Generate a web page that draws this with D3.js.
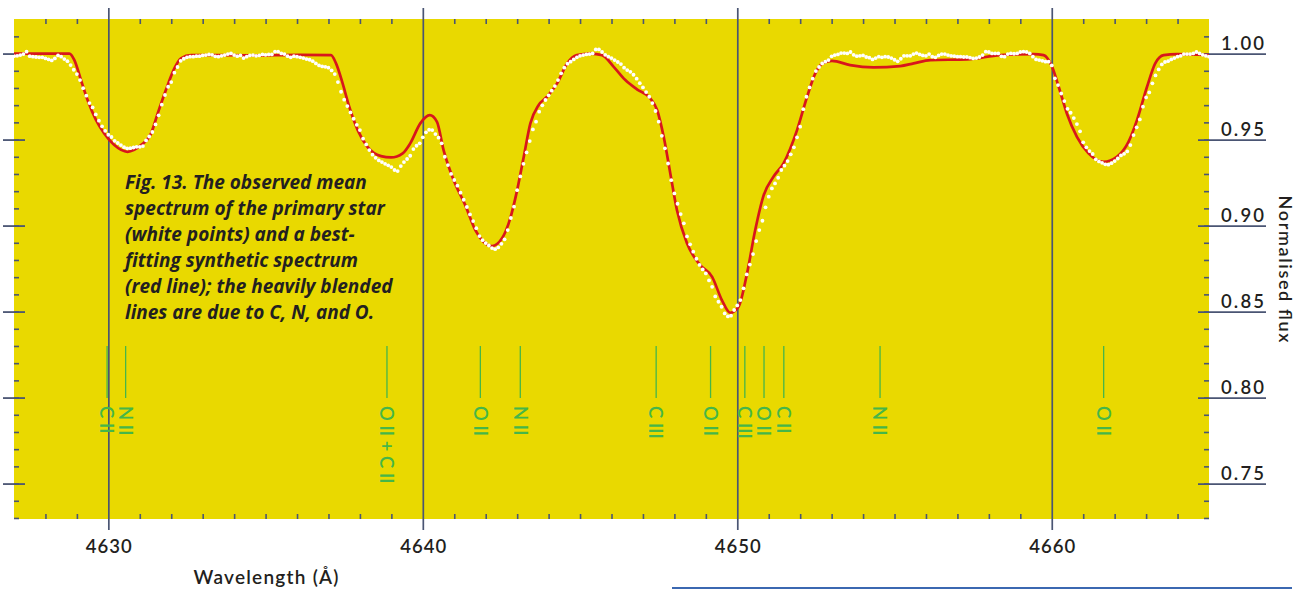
<!DOCTYPE html>
<html>
<head>
<meta charset="utf-8">
<script src="https://cdn.jsdelivr.net/npm/d3@7/dist/d3.min.js"></script>
<style>
  html, body { margin: 0; padding: 0; background: #ffffff; }
  svg { display: block; }
</style>
</head>
<body>
<svg id="chart" width="1297" height="591"></svg>
<script>
// ---------- DATA ----------
const wavelengthTicks = [4630, 4640, 4650, 4660];
const wavelengthTickLabels = ["4630", "4640", "4650", "4660"];
const fluxTicks = [0.75, 0.80, 0.85, 0.90, 0.95, 1.00];
const fluxTickLabels = ["0.75", "0.80", "0.85", "0.90", "0.95", "1.00"];

// Best-fitting synthetic spectrum (red line)
const modelWavelength = [4627.0, 4628.76, 4628.92, 4629.13, 4629.34, 4629.61, 4629.87, 4630.19, 4630.61, 4631.04,
  4631.36, 4631.57, 4631.83, 4632.10, 4632.31, 4632.63, 4634.5, 4636.1, 4637.08, 4637.24,
  4637.45, 4637.66, 4637.93, 4638.24, 4638.67, 4638.99, 4639.36, 4639.60, 4639.92, 4640.22,
  4640.45, 4640.66, 4640.98, 4641.35, 4641.67, 4641.93, 4642.20, 4642.52, 4642.78, 4643.00,
  4643.21, 4643.42, 4643.68, 4643.95, 4644.27, 4644.59, 4644.90, 4645.33, 4645.70, 4646.07,
  4646.44, 4646.81, 4647.23, 4647.45, 4647.66, 4647.87, 4648.08, 4648.40, 4648.82, 4649.20,
  4649.51, 4649.78, 4650.04, 4650.31, 4650.57, 4650.84, 4651.15, 4651.47, 4651.90, 4652.22,
  4652.48, 4652.74, 4653.01, 4653.59, 4654.33, 4655.18, 4655.61, 4656.14, 4657.30, 4658.36,
  4659.42, 4659.74, 4660.01, 4660.22, 4660.48, 4660.80, 4661.17, 4661.65, 4662.07, 4662.44,
  4662.71, 4663.03, 4663.29, 4663.56, 4663.98, 4665.0];
const modelFlux = [1.000, 1.000, 0.9962, 0.9846, 0.973, 0.9613, 0.9536, 0.9468, 0.9429, 0.9468,
  0.9536, 0.9652, 0.9788, 0.9914, 0.9972, 0.9991, 0.9990, 0.9993, 0.9991, 0.9943,
  0.9827, 0.9691, 0.9555, 0.9458, 0.9404, 0.9396, 0.942, 0.9478, 0.9594, 0.9642,
  0.9603, 0.9439, 0.9265, 0.9119, 0.8974, 0.8906, 0.8881, 0.8926, 0.9042, 0.9206,
  0.94, 0.9594, 0.97, 0.9749, 0.9827, 0.9943, 0.9991, 1.000, 0.9991, 0.9923,
  0.9846, 0.9792, 0.974, 0.9672, 0.9516, 0.9303, 0.909, 0.8897, 0.877, 0.8702,
  0.8567, 0.8493, 0.8528, 0.8722, 0.8974, 0.9177, 0.9284, 0.9362, 0.9555, 0.9749,
  0.9885, 0.9947, 0.9958, 0.9933, 0.992, 0.9927, 0.9943, 0.9962, 0.9966, 0.9991,
  0.9997, 0.9991, 0.9923, 0.9807, 0.9652, 0.9516, 0.942, 0.9371, 0.94, 0.9487,
  0.9613, 0.9807, 0.9943, 0.9991, 0.9997, 0.9991];

// Observed mean spectrum (white points)
const obsWavelength = [
  4627.0,4627.1,4627.2,4627.3,4627.4,4627.5,4627.6,4627.7,4627.8,4627.9,
  4628.0,4628.1,4628.2,4628.3,4628.4,4628.5,4628.6,4628.7,4628.8,4628.9,
  4629.0,4629.1,4629.2,4629.3,4629.4,4629.5,4629.6,4629.7,4629.8,4629.9,
  4630.0,4630.1,4630.2,4630.3,4630.4,4630.5,4630.6,4630.7,4630.8,4630.9,
  4631.0,4631.1,4631.2,4631.3,4631.4,4631.5,4631.6,4631.7,4631.8,4631.9,
  4632.0,4632.1,4632.2,4632.3,4632.4,4632.5,4632.6,4632.7,4632.8,4632.9,
  4633.0,4633.1,4633.2,4633.3,4633.4,4633.5,4633.6,4633.7,4633.8,4633.9,
  4634.0,4634.1,4634.2,4634.3,4634.4,4634.5,4634.6,4634.7,4634.8,4634.9,
  4635.0,4635.1,4635.2,4635.3,4635.4,4635.5,4635.6,4635.7,4635.8,4635.9,
  4636.0,4636.1,4636.2,4636.3,4636.4,4636.5,4636.6,4636.7,4636.8,4636.9,
  4637.0,4637.1,4637.2,4637.3,4637.4,4637.5,4637.6,4637.7,4637.8,4637.9,
  4638.0,4638.1,4638.2,4638.3,4638.4,4638.5,4638.6,4638.7,4638.8,4638.9,
  4639.0,4639.1,4639.2,4639.3,4639.4,4639.5,4639.6,4639.7,4639.8,4639.9,
  4640.0,4640.1,4640.2,4640.3,4640.4,4640.5,4640.6,4640.7,4640.8,4640.9,
  4641.0,4641.1,4641.2,4641.3,4641.4,4641.5,4641.6,4641.7,4641.8,4641.9,
  4642.0,4642.1,4642.2,4642.3,4642.4,4642.5,4642.6,4642.7,4642.8,4642.9,
  4643.0,4643.1,4643.2,4643.3,4643.4,4643.5,4643.6,4643.7,4643.8,4643.9,
  4644.0,4644.1,4644.2,4644.3,4644.4,4644.5,4644.6,4644.7,4644.8,4644.9,
  4645.0,4645.1,4645.2,4645.3,4645.4,4645.5,4645.6,4645.7,4645.8,4645.9,
  4646.0,4646.1,4646.2,4646.3,4646.4,4646.5,4646.6,4646.7,4646.8,4646.9,
  4647.0,4647.1,4647.2,4647.3,4647.4,4647.5,4647.6,4647.7,4647.8,4647.9,
  4648.0,4648.1,4648.2,4648.3,4648.4,4648.5,4648.6,4648.7,4648.8,4648.9,
  4649.0,4649.1,4649.2,4649.3,4649.4,4649.5,4649.6,4649.7,4649.8,4649.9,
  4650.0,4650.1,4650.2,4650.3,4650.4,4650.5,4650.6,4650.7,4650.8,4650.9,
  4651.0,4651.1,4651.2,4651.3,4651.4,4651.5,4651.6,4651.7,4651.8,4651.9,
  4652.0,4652.1,4652.2,4652.3,4652.4,4652.5,4652.6,4652.7,4652.8,4652.9,
  4653.0,4653.1,4653.2,4653.3,4653.4,4653.5,4653.6,4653.7,4653.8,4653.9,
  4654.0,4654.1,4654.2,4654.3,4654.4,4654.5,4654.6,4654.7,4654.8,4654.9,
  4655.0,4655.1,4655.2,4655.3,4655.4,4655.5,4655.6,4655.7,4655.8,4655.9,
  4656.0,4656.1,4656.2,4656.3,4656.4,4656.5,4656.6,4656.7,4656.8,4656.9,
  4657.0,4657.1,4657.2,4657.3,4657.4,4657.5,4657.6,4657.7,4657.8,4657.9,
  4658.0,4658.1,4658.2,4658.3,4658.4,4658.5,4658.6,4658.7,4658.8,4658.9,
  4659.0,4659.1,4659.2,4659.3,4659.4,4659.5,4659.6,4659.7,4659.8,4659.9,
  4660.0,4660.1,4660.2,4660.3,4660.4,4660.5,4660.6,4660.7,4660.8,4660.9,
  4661.0,4661.1,4661.2,4661.3,4661.4,4661.5,4661.6,4661.7,4661.8,4661.9,
  4662.0,4662.1,4662.2,4662.3,4662.4,4662.5,4662.6,4662.7,4662.8,4662.9,
  4663.0,4663.1,4663.2,4663.3,4663.4,4663.5,4663.6,4663.7,4663.8,4663.9,
  4664.0,4664.1,4664.2,4664.3,4664.4,4664.5,4664.6,4664.7,4664.8,4664.9,
  4665.0];
const obsFlux = [
  0.9985,0.9987,0.9991,0.9997,1.0011,0.9985,0.9982,0.9980,0.9978,0.9978,
  0.9972,0.9966,0.9960,0.9972,0.9989,0.9982,0.9968,0.9956,0.9933,0.9906,
  0.9881,0.9846,0.9799,0.9755,0.9712,0.9687,0.9646,0.9610,0.9577,0.9551,
  0.9528,0.9515,0.9493,0.9480,0.9468,0.9456,0.9449,0.9450,0.9454,0.9458,
  0.9458,0.9462,0.9495,0.9518,0.9544,0.9588,0.9641,0.9703,0.9759,0.9807,
  0.9834,0.9889,0.9922,0.9958,0.9970,0.9978,0.9982,0.9982,0.9985,0.9985,
  0.9989,0.9991,0.9995,0.9993,0.9984,0.9982,0.9987,0.9991,0.9997,1.0001,
  0.9991,0.9985,0.9989,0.9974,0.9982,0.9989,0.9991,0.9987,0.9989,0.9995,
  0.9993,0.9995,0.9995,1.0011,1.0011,1.0001,0.9997,0.9985,0.9978,0.9985,
  0.9982,0.9978,0.9974,0.9968,0.9964,0.9956,0.9943,0.9931,0.9925,0.9923,
  0.9918,0.9902,0.9881,0.9834,0.9778,0.9732,0.9695,0.9658,0.9621,0.9586,
  0.9555,0.9505,0.9472,0.9439,0.9412,0.9394,0.9379,0.9369,0.9359,0.9350,
  0.9340,0.9323,0.9317,0.9346,0.9369,0.9387,0.9406,0.9445,0.9464,0.9478,
  0.9513,0.9542,0.9557,0.9555,0.9532,0.9511,0.9478,0.9400,0.9352,0.9300,
  0.9265,0.9232,0.9191,0.9150,0.9108,0.9065,0.9026,0.8985,0.8939,0.8915,
  0.8898,0.8884,0.8869,0.8863,0.8873,0.8894,0.8920,0.8974,0.9044,0.9110,
  0.9206,0.9286,0.9359,0.9425,0.9491,0.9559,0.9604,0.9662,0.9699,0.9730,
  0.9757,0.9784,0.9811,0.9846,0.9885,0.9918,0.9941,0.9953,0.9966,0.9978,
  0.9987,0.9991,0.9995,0.9997,1.0001,1.0024,1.0024,1.0009,0.9993,0.9982,
  0.9974,0.9962,0.9951,0.9939,0.9918,0.9904,0.9894,0.9877,0.9854,0.9828,
  0.9803,0.9776,0.9749,0.9712,0.9666,0.9604,0.9522,0.9449,0.9361,0.9264,
  0.9187,0.9127,0.9067,0.9013,0.8937,0.8891,0.8848,0.8807,0.8771,0.8745,
  0.8722,0.8681,0.8644,0.8588,0.8557,0.8528,0.8489,0.8472,0.8476,0.8509,
  0.8536,0.8567,0.8635,0.8716,0.8773,0.8834,0.8910,0.8974,0.9028,0.9106,
  0.9168,0.9216,0.9245,0.9278,0.9323,0.9348,0.9375,0.9414,0.9455,0.9513,
  0.9575,0.9677,0.9749,0.9803,0.9854,0.9898,0.9922,0.9943,0.9953,0.9962,
  0.9984,0.9991,0.9995,1.0003,1.0003,1.0001,1.0009,0.9993,0.9985,0.9987,
  0.9989,0.9980,0.9976,0.9966,0.9974,0.9982,0.9978,0.9982,0.9980,0.9974,
  0.9964,0.9955,0.9970,0.9987,0.9987,0.9987,0.9997,1.0003,0.9995,0.9989,
  0.9987,0.9997,0.9982,0.9978,0.9989,0.9997,0.9997,0.9991,0.9987,0.9985,
  0.9982,0.9982,0.9980,0.9980,0.9976,0.9972,0.9974,0.9980,0.9991,1.0011,
  1.0009,1.0001,1.0001,1.0001,0.9984,0.9982,0.9997,1.0001,0.9999,1.0001,
  1.0009,1.0011,1.0009,1.0001,0.9982,0.9966,0.9962,0.9958,0.9953,0.9953,
  0.9931,0.9856,0.9817,0.9768,0.9724,0.9679,0.9656,0.9625,0.9590,0.9548,
  0.9484,0.9455,0.9433,0.9416,0.9385,0.9373,0.9365,0.9356,0.9354,0.9363,
  0.9375,0.9390,0.9408,0.9417,0.9431,0.9468,0.9526,0.9571,0.9617,0.9691,
  0.9745,0.9774,0.9827,0.9873,0.9908,0.9937,0.9951,0.9956,0.9966,0.9974,
  0.9982,0.9987,0.9997,0.9997,0.9997,1.0001,1.0009,1.0001,0.9993,0.9987,
  0.9982];

// Line identifications (green markers)
const lineIons = ["C II", "N II", "O II + C II", "O II", "N II", "C III", "O II", "C III", "O II", "C II", "N II", "O II"];
const lineWavelengths = [4629.96, 4630.55, 4638.86, 4641.83, 4643.10, 4647.42, 4649.15, 4650.24, 4650.85, 4651.48, 4654.54, 4661.65];

const captionLines = [
  "Fig. 13. The observed mean",
  "spectrum of the primary star",
  "(white points) and a best-",
  "fitting synthetic spectrum",
  "(red line); the heavily blended",
  "lines are due to C, N, and O."
];

// ---------- LAYOUT ----------
const svg = d3.select("#chart");
const plot = { left: 14, right: 1209, top: 19, bottom: 519 };
const ink = "#231f20", axisCol = "#4a5573", yellow = "#e9d900", red = "#d8161c", green = "#45b649";
const numFont = "Lato, 'Open Sans', 'DejaVu Sans', sans-serif";
const capFont = "'Open Sans', 'DejaVu Sans', sans-serif";

const x = d3.scaleLinear().domain([4627, 4665]).range([plot.left, plot.right]);
const y = d3.scaleLinear().domain([0.7294, 1.0201]).range([plot.bottom, plot.top]);

svg.append("rect")
  .attr("x", plot.left).attr("y", plot.top)
  .attr("width", plot.right - plot.left).attr("height", plot.bottom - plot.top)
  .attr("fill", yellow);

function styleAxis(g, w) {
  g.select(".domain").remove();
  g.selectAll(".tick line").attr("stroke", axisCol).attr("stroke-width", w);
}

const minorWave = d3.range(4628, 4665).filter(d => d % 10 !== 0);
const minorFlux = d3.range(73, 102).map(d => d / 100);

// x minor ticks (top and bottom, inside)
svg.append("g").attr("transform", `translate(0,${plot.top})`)
  .call(d3.axisBottom(x).tickValues(minorWave).tickSize(5).tickFormat(""))
  .call(g => styleAxis(g, 1.6));
svg.append("g").attr("transform", `translate(0,${plot.bottom})`)
  .call(d3.axisTop(x).tickValues(minorWave).tickSize(5).tickFormat(""))
  .call(g => styleAxis(g, 1.6));

// y minor ticks (left and right, inside)
svg.append("g").attr("transform", `translate(${plot.left + 5},0)`)
  .call(d3.axisLeft(y).tickValues(minorFlux).tickSize(5).tickFormat(""))
  .call(g => styleAxis(g, 1.6));
svg.append("g").attr("transform", `translate(${plot.right - 5},0)`)
  .call(d3.axisRight(y).tickValues(minorFlux).tickSize(5).tickFormat(""))
  .call(g => styleAxis(g, 1.6));

// y major ticks left
svg.append("g").attr("transform", `translate(25,0)`)
  .call(d3.axisLeft(y).tickValues(fluxTicks).tickSize(22).tickFormat(""))
  .call(g => styleAxis(g, 1.8));

// y major ticks right with labels
svg.append("g").attr("transform", `translate(1198,0)`)
  .call(d3.axisRight(y).tickValues(fluxTicks).tickSize(68)
    .tickFormat((d, i) => fluxTickLabels[i]))
  .call(g => {
    styleAxis(g, 1.8);
    g.selectAll(".tick text")
      .attr("x", 66).attr("y", -4).attr("dy", 0)
      .attr("text-anchor", "end")
      .attr("fill", ink)
      .attr("textLength", 43).attr("lengthAdjust", "spacing")
      .style("font-family", numFont).style("font-size", "18.5px")
      .style("font-weight", "600");
  });

// x major lines with labels
svg.append("g").attr("transform", `translate(0,8)`)
  .call(d3.axisBottom(x).tickValues(wavelengthTicks).tickSize(522).tickPadding(10)
    .tickFormat((d, i) => wavelengthTickLabels[i]))
  .call(g => {
    styleAxis(g, 1.7);
    g.selectAll(".tick text")
      .attr("fill", ink)
      .attr("textLength", 46).attr("lengthAdjust", "spacing")
      .style("font-family", numFont).style("font-size", "18.5px")
      .style("font-weight", "600");
  });

// axis titles
svg.append("text")
  .attr("x", 266).attr("y", 584)
  .attr("text-anchor", "middle").attr("fill", ink)
  .attr("textLength", 145).attr("lengthAdjust", "spacing")
  .style("font-family", numFont).style("font-size", "19px")
  .style("font-weight", "600")
  .text("Wavelength (Å)");

svg.append("text")
  .attr("transform", "translate(1285,269) rotate(90)")
  .attr("text-anchor", "middle").attr("dy", "0.35em").attr("fill", ink)
  .attr("textLength", 147).attr("lengthAdjust", "spacing")
  .style("font-family", numFont).style("font-size", "18px")
  .style("font-weight", "600")
  .text("Normalised flux");

// green line identifications
const ids = svg.append("g");
lineIons.forEach((ion, i) => {
  const px = x(lineWavelengths[i]);
  ids.append("line")
    .attr("x1", px).attr("x2", px).attr("y1", 346).attr("y2", 398)
    .attr("stroke", green).attr("stroke-width", 1.3);
  ids.append("text")
    .attr("transform", `translate(${px},406) rotate(90)`)
    .attr("dy", "0.36em").attr("fill", green)
    .style("font-family", numFont).style("font-size", "18.5px")
    .style("font-weight", "600")
    .text(ion);
});

// caption
const cap = svg.append("text")
  .attr("fill", ink)
  .style("font-family", capFont).style("font-size", "19px")
  .style("font-weight", "700").style("font-style", "italic");
captionLines.forEach((t, i) => {
  cap.append("tspan").attr("x", 125).attr("y", 189 + i * 26).text(t);
});

// synthetic spectrum
svg.append("clipPath").attr("id", "plotclip").append("rect")
  .attr("x", plot.left).attr("y", plot.top)
  .attr("width", plot.right - plot.left).attr("height", plot.bottom - plot.top);

const model = modelWavelength.map((w, i) => [w, modelFlux[i]]);
svg.append("path")
  .datum(model)
  .attr("clip-path", "url(#plotclip)")
  .attr("fill", "none").attr("stroke", red).attr("stroke-width", 2.7)
  .attr("stroke-linejoin", "round")
  .attr("d", d3.line().x(d => x(d[0])).y(d => y(d[1])).curve(d3.curveMonotoneX));

// observed points
const obs = obsWavelength.map((w, i) => [w, obsFlux[i]]);
svg.append("g").attr("clip-path", "url(#plotclip)")
  .selectAll("circle").data(obs).join("circle")
  .attr("cx", d => x(d[0])).attr("cy", d => y(d[1]))
  .attr("r", 1.9).attr("fill", "#ffffff");

// decorative rule at the bottom
svg.append("line")
  .attr("x1", 672).attr("x2", 1292).attr("y1", 588).attr("y2", 588)
  .attr("stroke", "#3b68b1").attr("stroke-width", 2);
</script>
</body>
</html>
